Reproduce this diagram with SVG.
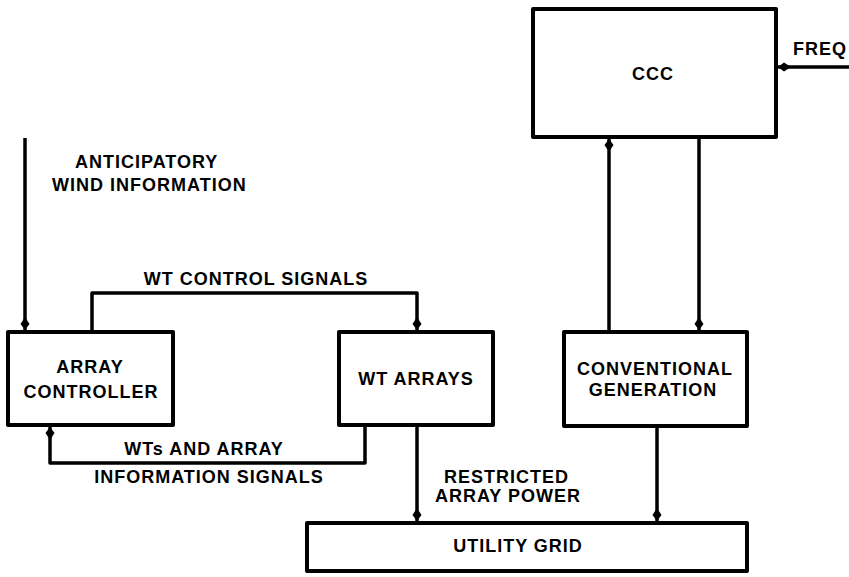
<svg xmlns="http://www.w3.org/2000/svg" width="849" height="577" viewBox="0 0 849 577">
<style>
.box{fill:#fff;stroke:#000;stroke-width:4;stroke-linejoin:round}
.ln{fill:none;stroke:#000;stroke-width:3.5;stroke-linejoin:round}
text{font-family:"Liberation Sans","DejaVu Sans",sans-serif;font-weight:bold;font-size:18px;fill:#000;letter-spacing:1px}
.c{text-anchor:middle}
</style>
<defs>
<marker id="ah" markerUnits="userSpaceOnUse" markerWidth="16" markerHeight="12" viewBox="-14 -6 16 12" refX="0" refY="0" orient="auto">
<path d="M0,0 L-6,-4.5 L-13,0 L-6,4.5 Z" fill="#000"/>
</marker>
</defs>
<rect width="849" height="577" fill="#fff"/>
<g id="connectors">
<path class="ln" d="M25,138 V330" marker-end="url(#ah)"/>
<path class="ln" d="M92,332 V293 H417 V330" marker-end="url(#ah)"/>
<path class="ln" d="M365,425 V463 H50 V427" marker-end="url(#ah)"/>
<path class="ln" d="M417,425 V521" marker-end="url(#ah)"/>
<path class="ln" d="M609,332 V139" marker-end="url(#ah)"/>
<path class="ln" d="M699,137 V330" marker-end="url(#ah)"/>
<path class="ln" d="M657,426 V521" marker-end="url(#ah)"/>
<path class="ln" d="M849,67 H778" marker-end="url(#ah)"/>
</g>
<g id="labels">
<text x="75" y="168">ANTICIPATORY</text>
<text x="52" y="191">WIND INFORMATION</text>
<text class="c" x="256" y="285">WT CONTROL SIGNALS</text>
<text class="c" x="204" y="455">WTs AND ARRAY</text>
<text class="c" x="209" y="483">INFORMATION SIGNALS</text>
<text x="444" y="483">RESTRICTED</text>
<text x="435" y="502">ARRAY POWER</text>
<text x="793" y="55">FREQ</text>
</g>
<g id="array-controller">
<rect class="box" x="8" y="332" width="165" height="93"/>
<text class="c" x="90" y="373">ARRAY</text>
<text class="c" x="91" y="398">CONTROLLER</text>
</g>
<g id="wt-arrays">
<rect class="box" x="339" y="332" width="154" height="93"/>
<text class="c" x="416" y="385">WT ARRAYS</text>
</g>
<g id="conventional-generation">
<rect class="box" x="564" y="332" width="183" height="94"/>
<text class="c" x="655" y="375">CONVENTIONAL</text>
<text class="c" x="653" y="396">GENERATION</text>
</g>
<g id="ccc">
<rect class="box" x="533" y="9" width="243" height="128"/>
<text class="c" x="653" y="80">CCC</text>
</g>
<g id="utility-grid">
<rect class="box" x="307" y="523" width="440" height="48"/>
<text class="c" x="518" y="552">UTILITY GRID</text>
</g>
</svg>
